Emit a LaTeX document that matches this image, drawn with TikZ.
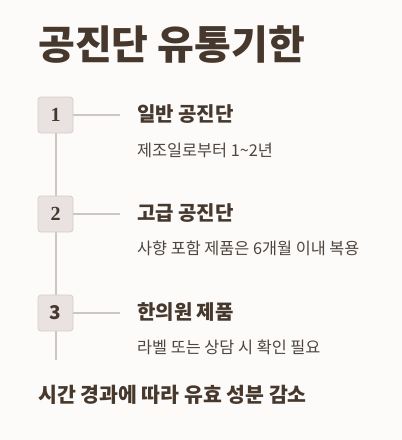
\documentclass[tikz,border=0pt]{standalone}
\usepackage{fontspec}
\setmainfont{Noto Sans CJK KR}
\newfontfamily\numfont{Liberation Serif}[UprightFont={* Bold}]
\usetikzlibrary{positioning, calc}
\definecolor{paper}{RGB}{253,251,249}
\definecolor{ink}{RGB}{70,56,45}
\definecolor{dusk}{RGB}{78,69,63}
\definecolor{tile}{RGB}{233,226,224}
\definecolor{rim}{RGB}{214,205,202}
\definecolor{wire}{RGB}{206,198,195}

\begin{document}
\begin{tikzpicture}[
  x=1pt, y=-1pt,
  stepbox/.style={draw=rim, fill=tile, rounded corners=3pt, line width=0.8pt,
                  minimum width=35pt, minimum height=36pt, inner sep=0pt,
                  text=ink, font=\numfont\fontsize{20}{20}\selectfont},
  link/.style={draw=wire, line width=1.5pt},
  head/.style={anchor=west, inner sep=0pt, text=ink,
               font=\bfseries\fontsize{20}{20}\selectfont},
  note/.style={anchor=west, inner sep=0pt, text=dusk,
               font=\fontsize{16.3}{16.3}\selectfont},
  ttl/.style={anchor=west, inner sep=0pt, text=ink,
              font=\bfseries\fontsize{40}{40}\selectfont}]
  \path[fill=paper] (0,0) rectangle (402,440);
  \node[ttl] (title) at (38,45) {공진단 유통기한};
  \coordinate (tail) at (56,360);
  \draw[link] (56,115) -- (tail);
  % steps
  \node[stepbox] (s1) at (55.5,115) {1};
  \node[stepbox] (s2) at (55.5,214) {2};
  \node[stepbox, font=\bfseries\fontsize{19}{19}\selectfont] (s3) at (55.5,313) {3};
  \coordinate (e1) at (120,115);
  \coordinate (e2) at (120,214);
  \coordinate (e3) at (120,313);
  \draw[link] (s1) -- (e1);
  \draw[link] (s2) -- (e2);
  \draw[link] (s3) -- (e3);
  \node[head] (h1) at (137,114) {일반 공진단};
  \node[note] (n1) at (137,150) {제조일로부터 1\textasciitilde2년};
  \node[head] (h2) at (137,213) {고급 공진단};
  \node[note] (n2) at (137,248) {사향 포함 제품은 6개월 이내 복용};
  \node[head] (h3) at (137,312) {한의원 제품};
  \node[note] (n3) at (137,347) {라벨 또는 상담 시 확인 필요};
  \node[head, font=\bfseries\fontsize{20.5}{20.5}\selectfont] (foot) at (38,395) {시간 경과에 따라 유효 성분 감소};
\end{tikzpicture}
\end{document}
